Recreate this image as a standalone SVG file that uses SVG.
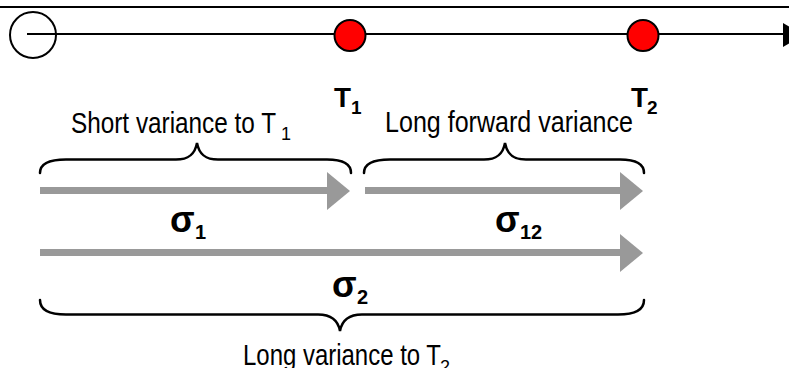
<svg xmlns="http://www.w3.org/2000/svg" width="789" height="368" viewBox="0 0 789 368">
<style>
.lbl{font-family:"Liberation Sans",Arial,sans-serif;font-size:29px;fill:#000}
.sub{font-family:"Liberation Sans",Arial,sans-serif;font-size:18px;fill:#000}
.bold{font-family:"Liberation Sans",Arial,sans-serif;font-weight:bold;fill:#000}
.brace{fill:none;stroke:#000;stroke-width:2.5;stroke-linecap:round}
.shaft{fill:none;stroke:#999;stroke-width:7}
.head{fill:#999}
.evt{fill:#ff0000;stroke:#000;stroke-width:2}
</style>
<rect width="789" height="368" fill="#fff"/>
<line x1="0" y1="7" x2="789" y2="7" stroke="#000" stroke-width="2"/>
<g id="timeline">
<line x1="27" y1="34" x2="784" y2="34" stroke="#000" stroke-width="2"/>
<polygon points="783,23 803,35 783,47" fill="#000"/>
</g>
<g id="origin"><circle cx="33" cy="35" r="23" fill="none" stroke="#000" stroke-width="2"/></g>
<g id="t1">
<circle class="evt" cx="350" cy="35.5" r="15.5"/>
<text class="bold" x="334" y="107" font-size="28" textLength="17" lengthAdjust="spacingAndGlyphs">T</text>
<text class="bold" x="351" y="114" font-size="19">1</text>
</g>
<g id="t2">
<circle class="evt" cx="643" cy="35.5" r="15.5"/>
<text class="bold" x="631" y="107" font-size="28" textLength="17" lengthAdjust="spacingAndGlyphs">T</text>
<text class="bold" x="647" y="114" font-size="19">2</text>
</g>
<g id="connectors">
<line class="shaft" x1="40" y1="190.5" x2="328" y2="190.5"/>
<polygon class="head" points="327,172 350,191 327,210"/>
<line class="shaft" x1="365" y1="190.5" x2="621" y2="190.5"/>
<polygon class="head" points="620,172 643,191 620,210"/>
<line class="shaft" x1="40" y1="252.5" x2="621" y2="252.5"/>
<polygon class="head" points="620,234 643,253 620,272"/>
</g>
<g id="short-variance">
<path class="brace" d="M40,173 C40,164 48,159.5 66,159.5 L176,159.5 C189,159.5 195,154 197,143 C199,154 205,159.5 218,159.5 L327,159.5 C343,159.5 351,164 351,173"/>
<text class="lbl" x="71" y="133" textLength="205" lengthAdjust="spacingAndGlyphs">Short variance to T</text>
<text class="sub" x="281" y="140">1</text>
</g>
<g id="forward-variance">
<path class="brace" d="M364,173 C364,164 372,159.5 390,159.5 L484,159.5 C497,159.5 503,154 505,143 C507,154 513,159.5 526,159.5 L620,159.5 C636,159.5 644,164 644,173"/>
<text class="lbl" x="385" y="132" textLength="248" lengthAdjust="spacingAndGlyphs">Long forward variance</text>
</g>
<g id="long-variance">
<path class="brace" d="M40,300 C40,309 48,314.5 66,314.5 L318,314.5 C331,314.5 338,320 340,331 C342,320 349,314.5 362,314.5 L618,314.5 C636,314.5 644,309 644,300"/>
<text class="lbl" x="243" y="365" textLength="198" lengthAdjust="spacingAndGlyphs">Long variance to T</text>
<text class="sub" x="440" y="373">2</text>
</g>
<g id="sigma1"><text class="bold" x="170" y="232" font-size="36">σ</text><text class="bold" x="195" y="239" font-size="20">1</text></g>
<g id="sigma12"><text class="bold" x="495" y="232" font-size="36">σ</text><text class="bold" x="520" y="239" font-size="20">12</text></g>
<g id="sigma2"><text class="bold" x="332" y="297" font-size="36">σ</text><text class="bold" x="357" y="304" font-size="20">2</text></g>
</svg>
